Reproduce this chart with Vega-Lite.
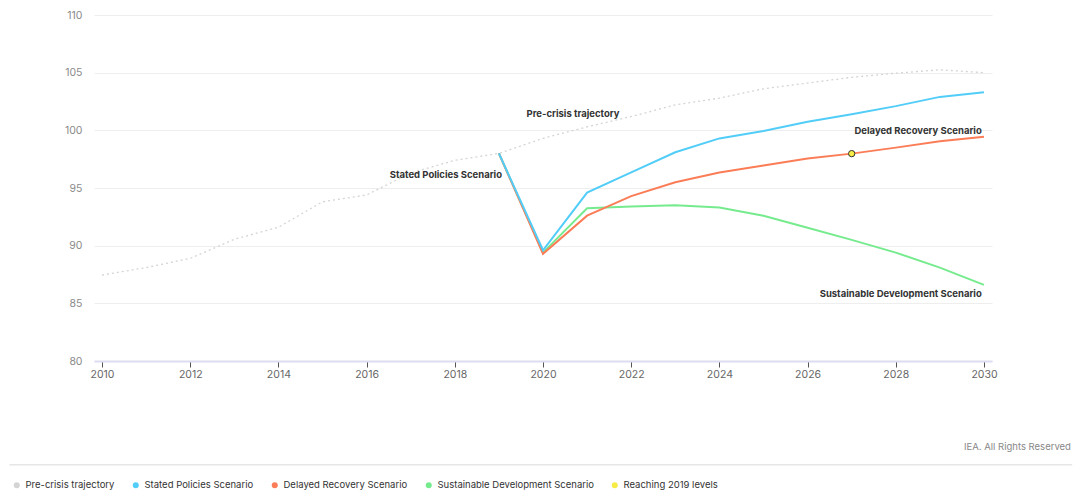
{
  "$schema": "https://vega.github.io/schema/vega-lite/v6.json",
  "autosize": {"type": "none"},
  "width": 898,
  "height": 346,
  "padding": {"left": 94, "top": 15, "right": 84, "bottom": 137},
  "config": {
    "font": "Inter",
    "view": {"stroke": null},
    "axis": {"labelFont": "Inter", "labelColor": "#777777", "labelFontSize": 10.5}
  },
  "title": {"text": "IEA. All Rights Reserved", "orient": "bottom", "anchor": "end", "offset": 0, "dx": -2, "dy": -48, "fontSize": 9.5, "fontWeight": "normal", "color": "#888888", "font": "Inter"},
  "data": {
    "values": [
      {"year": 2010, "value": 87.45, "series": "Pre-crisis trajectory"},
      {"year": 2011, "value": 88.1, "series": "Pre-crisis trajectory"},
      {"year": 2012, "value": 88.9, "series": "Pre-crisis trajectory"},
      {"year": 2013, "value": 90.55, "series": "Pre-crisis trajectory"},
      {"year": 2014, "value": 91.6, "series": "Pre-crisis trajectory"},
      {"year": 2015, "value": 93.8, "series": "Pre-crisis trajectory"},
      {"year": 2016, "value": 94.4, "series": "Pre-crisis trajectory"},
      {"year": 2017, "value": 96.3, "series": "Pre-crisis trajectory"},
      {"year": 2018, "value": 97.4, "series": "Pre-crisis trajectory"},
      {"year": 2019, "value": 98.0, "series": "Pre-crisis trajectory"},
      {"year": 2020, "value": 99.3, "series": "Pre-crisis trajectory"},
      {"year": 2021, "value": 100.3, "series": "Pre-crisis trajectory"},
      {"year": 2022, "value": 101.2, "series": "Pre-crisis trajectory"},
      {"year": 2023, "value": 102.2, "series": "Pre-crisis trajectory"},
      {"year": 2024, "value": 102.8, "series": "Pre-crisis trajectory"},
      {"year": 2025, "value": 103.6, "series": "Pre-crisis trajectory"},
      {"year": 2026, "value": 104.1, "series": "Pre-crisis trajectory"},
      {"year": 2027, "value": 104.6, "series": "Pre-crisis trajectory"},
      {"year": 2028, "value": 104.95, "series": "Pre-crisis trajectory"},
      {"year": 2029, "value": 105.25, "series": "Pre-crisis trajectory"},
      {"year": 2030, "value": 105.0, "series": "Pre-crisis trajectory"},
      {"year": 2019, "value": 98.0, "series": "Stated Policies Scenario"},
      {"year": 2020, "value": 89.6, "series": "Stated Policies Scenario"},
      {"year": 2021, "value": 94.6, "series": "Stated Policies Scenario"},
      {"year": 2022, "value": 96.35, "series": "Stated Policies Scenario"},
      {"year": 2023, "value": 98.1, "series": "Stated Policies Scenario"},
      {"year": 2024, "value": 99.3, "series": "Stated Policies Scenario"},
      {"year": 2025, "value": 99.95, "series": "Stated Policies Scenario"},
      {"year": 2026, "value": 100.75, "series": "Stated Policies Scenario"},
      {"year": 2027, "value": 101.4, "series": "Stated Policies Scenario"},
      {"year": 2028, "value": 102.1, "series": "Stated Policies Scenario"},
      {"year": 2029, "value": 102.9, "series": "Stated Policies Scenario"},
      {"year": 2030, "value": 103.3, "series": "Stated Policies Scenario"},
      {"year": 2019, "value": 98.0, "series": "Delayed Recovery Scenario"},
      {"year": 2020, "value": 89.3, "series": "Delayed Recovery Scenario"},
      {"year": 2021, "value": 92.6, "series": "Delayed Recovery Scenario"},
      {"year": 2022, "value": 94.3, "series": "Delayed Recovery Scenario"},
      {"year": 2023, "value": 95.5, "series": "Delayed Recovery Scenario"},
      {"year": 2024, "value": 96.35, "series": "Delayed Recovery Scenario"},
      {"year": 2025, "value": 96.95, "series": "Delayed Recovery Scenario"},
      {"year": 2026, "value": 97.55, "series": "Delayed Recovery Scenario"},
      {"year": 2027, "value": 97.98, "series": "Delayed Recovery Scenario"},
      {"year": 2028, "value": 98.5, "series": "Delayed Recovery Scenario"},
      {"year": 2029, "value": 99.05, "series": "Delayed Recovery Scenario"},
      {"year": 2030, "value": 99.45, "series": "Delayed Recovery Scenario"},
      {"year": 2019, "value": 98.0, "series": "Sustainable Development Scenario"},
      {"year": 2020, "value": 89.4, "series": "Sustainable Development Scenario"},
      {"year": 2021, "value": 93.25, "series": "Sustainable Development Scenario"},
      {"year": 2022, "value": 93.4, "series": "Sustainable Development Scenario"},
      {"year": 2023, "value": 93.5, "series": "Sustainable Development Scenario"},
      {"year": 2024, "value": 93.3, "series": "Sustainable Development Scenario"},
      {"year": 2025, "value": 92.6, "series": "Sustainable Development Scenario"},
      {"year": 2026, "value": 91.55, "series": "Sustainable Development Scenario"},
      {"year": 2027, "value": 90.5, "series": "Sustainable Development Scenario"},
      {"year": 2028, "value": 89.4, "series": "Sustainable Development Scenario"},
      {"year": 2029, "value": 88.1, "series": "Sustainable Development Scenario"},
      {"year": 2030, "value": 86.6, "series": "Sustainable Development Scenario"}
    ]
  },
  "encoding": {
    "x": {
      "field": "year", "type": "quantitative",
      "scale": {"domain": [2009.818, 2030.182], "nice": false, "zero": false},
      "axis": {
        "title": null, "values": [2010, 2012, 2014, 2016, 2018, 2020, 2022, 2024, 2026, 2028, 2030],
        "format": "d", "grid": false, "domainColor": "#dcdcf2", "domainWidth": 2,
        "tickColor": "#555555", "tickSize": 6, "tickWidth": 1, "labelPadding": 2,
        "labelColor": "#666666"
      }
    },
    "y": {
      "field": "value", "type": "quantitative",
      "scale": {"domain": [80, 110], "nice": false, "zero": false},
      "axis": {
        "title": null, "values": [80, 85, 90, 95, 100, 105, 110], "domain": false, "ticks": false,
        "labelPadding": 12, "gridColor": "#eeeeee", "gridWidth": 1, "labelColor": "#8a8a8a"
      }
    },
    "color": {
      "field": "series", "type": "nominal",
      "scale": {
        "domain": ["Pre-crisis trajectory", "Stated Policies Scenario", "Delayed Recovery Scenario", "Sustainable Development Scenario", "Reaching 2019 levels"],
        "range": ["#d4d4d4", "#52cdf8", "#fb7d57", "#76eb8e", "#f7ec45"]
      },
      "legend": {
        "title": null, "orient": "none", "direction": "horizontal", "legendX": -82, "legendY": 465,
        "symbolType": "circle", "symbolSize": 36, "symbolStrokeWidth": 0,
        "labelFont": "Inter", "labelFontSize": 9.5, "labelColor": "#333333", "labelOffset": 4,
        "columnPadding": 16, "padding": 0,
        "encode": {"symbols": {"update": {"fill": {"scale": "color", "field": "value"}, "stroke": {"value": "transparent"}, "opacity": {"value": 1}}}}
      }
    }
  },
  "layer": [
    {
      "data": {"values": [{"x1": 2007.9, "x2": 2032.0, "y": 71.0}]},
      "mark": {"type": "rule", "color": "#e6e6e6", "strokeWidth": 1.5},
      "encoding": {
        "x": {"field": "x1", "type": "quantitative"},
        "x2": {"field": "x2"},
        "y": {"field": "y", "type": "quantitative"},
        "color": {"value": "#e6e6e6"}
      }
    },
    {
      "transform": [{"filter": "datum.series == 'Pre-crisis trajectory'"}],
      "mark": {"type": "line", "strokeWidth": 1.3, "strokeDash": [2, 3]},
      "encoding": {}
    },
    {
      "transform": [{"filter": "datum.series == 'Sustainable Development Scenario'"}],
      "mark": {"type": "line", "strokeWidth": 2},
      "encoding": {}
    },
    {
      "transform": [{"filter": "datum.series == 'Delayed Recovery Scenario'"}],
      "mark": {"type": "line", "strokeWidth": 2},
      "encoding": {}
    },
    {
      "transform": [{"filter": "datum.series == 'Stated Policies Scenario'"}],
      "mark": {"type": "line", "strokeWidth": 2},
      "encoding": {}
    },
    {
      "data": {"values": [{"year": 2027, "value": 97.98, "series": "Reaching 2019 levels"}]},
      "mark": {"type": "point", "filled": true, "size": 40, "stroke": "#333333", "strokeWidth": 1, "opacity": 1},
      "encoding": {}
    },
    {
      "data": {"values": [
        {"year": 2020.68, "value": 101.4, "label": "Pre-crisis trajectory"}
      ]},
      "mark": {"type": "text", "align": "center", "baseline": "middle", "fontSize": 9.5, "fontWeight": "bold", "color": "#333333", "font": "Inter"},
      "encoding": {
        "text": {"field": "label"},
        "color": {"value": "#333333"}
      }
    },
    {
      "data": {"values": [
        {"year": 2019.07, "value": 96.1, "label": "Stated Policies Scenario"},
        {"year": 2029.95, "value": 99.95, "label": "Delayed Recovery Scenario"},
        {"year": 2029.95, "value": 85.8, "label": "Sustainable Development Scenario"}
      ]},
      "mark": {"type": "text", "align": "right", "baseline": "middle", "fontSize": 9.5, "fontWeight": "bold", "color": "#333333", "font": "Inter"},
      "encoding": {
        "text": {"field": "label"},
        "color": {"value": "#333333"}
      }
    }
  ]
}
